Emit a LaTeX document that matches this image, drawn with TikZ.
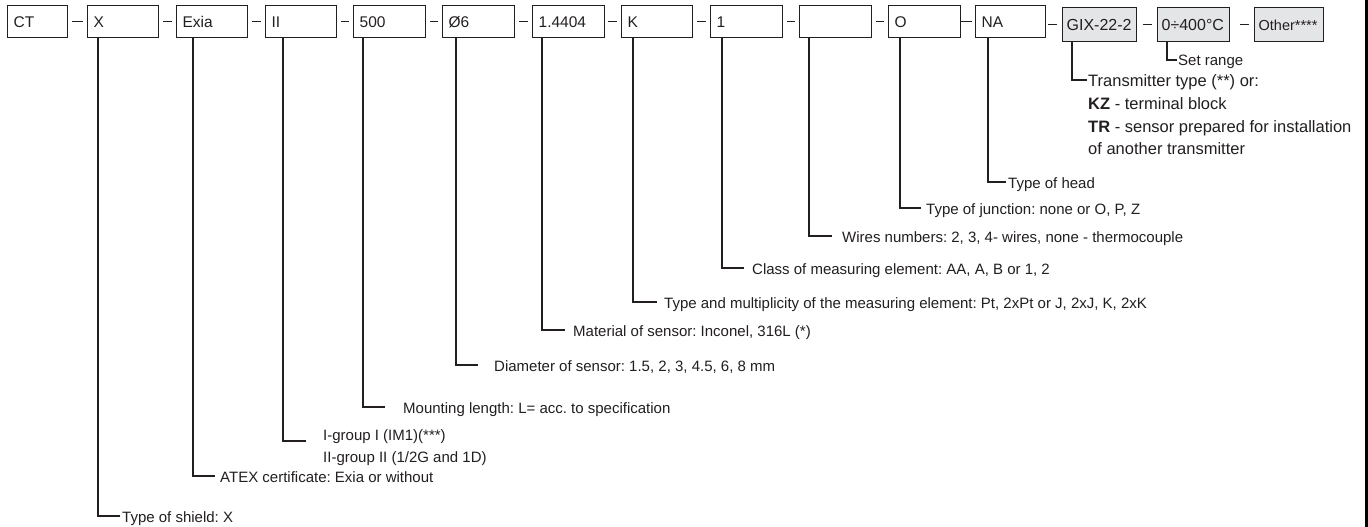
\documentclass[tikz,border=0pt]{standalone}
\usepackage{fontspec}
\setmainfont{Liberation Sans}
\frenchspacing
\definecolor{ink}{RGB}{35,31,32}
\definecolor{boxgrey}{RGB}{228,229,230}
\definecolor{ybar}{RGB}{255,210,40}
\tikzset{
  codebox/.style={draw=ink, line width=1.3pt, rectangle, anchor=north west,
    minimum height=32pt, inner xsep=6pt, inner ysep=0pt, text width=#1,
    align=left, text height=11pt, text depth=0pt, text=ink,
    font=\fontsize{15.5}{18}\selectfont},
  greybox/.style={codebox=#1, fill=boxgrey, minimum height=34pt, inner xsep=4pt,
    font=\fontsize{16}{18}\selectfont, text height=11.5pt},
  conn/.style={draw=ink, line width=1.3pt},
  lbl/.style={anchor=base west, inner sep=0pt, text=ink, font=\fontsize{15}{22}\selectfont},
}
\begin{document}
\begin{tikzpicture}[x=1pt,y=-1pt]
\useasboundingbox (0,0) rectangle (1368,527);
\fill[white] (0,0) rectangle (1368,527);
\fill[ybar] (1365,0) rectangle (1368,527);

% code boxes
\node[codebox=48pt] (bCT)  at (7,5)   {CT};
\node[codebox=59pt] (bX)   at (87,5)  {X};
\node[codebox=59pt] (bEx)  at (176,5) {Exia};
\node[codebox=59pt] (bII)  at (265,5) {II};
\node[codebox=60pt] (b500) at (353,5) {500};
\node[codebox=60pt] (bD)   at (442,5) {Ø6};
\node[codebox=60pt] (bMat) at (532,5) {1.4404};
\node[codebox=59pt] (bK)   at (621,5) {K};
\node[codebox=60pt] (b1)   at (710,5) {1};
\node[codebox=60pt] (bW)   at (799,5) {};
\node[codebox=60pt] (bO)   at (888,5) {O};
\node[codebox=58pt] (bNA)  at (975,5) {NA};
\node[greybox=66pt] (bGIX) at (1062,7) {GIX-22-2};
\node[greybox=64pt] (bR)   at (1157,7) {0÷400°C};
\node[greybox=61pt, font=\fontsize{14.5}{18}\selectfont] (bOth) at (1254,7) {Other****};

% dashes between boxes
\draw[conn] ([xshift=4pt]bCT.east)  -- ([xshift=-4pt]bX.west);
\draw[conn] ([xshift=4pt]bX.east)   -- ([xshift=-4pt]bEx.west);
\draw[conn] ([xshift=4pt]bEx.east)  -- ([xshift=-4pt]bII.west);
\draw[conn] ([xshift=4pt]bII.east)  -- ([xshift=-4pt]b500.west);
\draw[conn] ([xshift=4pt]b500.east) -- ([xshift=-4pt]bD.west);
\draw[conn] ([xshift=4pt]bD.east)   -- ([xshift=-4pt]bMat.west);
\draw[conn] ([xshift=3pt]bMat.east) -- ([xshift=-4pt]bK.west);
\draw[conn] ([xshift=4pt]bK.east)   -- ([xshift=-4pt]b1.west);
\draw[conn] ([xshift=4pt]b1.east)   -- ([xshift=-4pt]bW.west);
\draw[conn] ([xshift=4pt]bW.east)   -- ([xshift=-4pt]bO.west);
\draw[conn] (bO.east) -- ([xshift=-3pt]bNA.west);
\draw[conn] ([xshift=2pt]bNA.east |- bGIX.west) -- ([xshift=-5pt]bGIX.west);
\draw[conn] ([xshift=6pt]bGIX.east) -- ([xshift=-5pt]bR.west);
\draw[conn] ([xshift=10pt]bR.east)  -- ([xshift=-5pt]bOth.west);

% labels
\node[lbl] (lX)   at (122,522) {Type of shield: X};
\node[lbl] (lEx)  at (220,482) {ATEX certificate: Exia or without};
\node[lbl] (lII)  at (323,440) {\vtop{\hbox{I-group I (IM1)(***)}\hbox{II-group II (1/2G and 1D)}}};
\node[lbl] (l500) at (403,413) {Mounting length: L= acc. to specification};
\node[lbl] (lD)   at (494,371) {Diameter of sensor: 1.5, 2, 3, 4.5, 6, 8 mm};
\node[lbl] (lMat) at (573,336) {Material of sensor: Inconel, 316L (*)};
\node[lbl] (lK)   at (664,308) {Type and multiplicity of the measuring element: Pt, 2xPt or J, 2xJ, K, 2xK};
\node[lbl] (l1)   at (752,274) {Class of measuring element: AA, A, B or 1, 2};
\node[lbl] (lW)   at (842,242) {Wires numbers: 2, 3, 4- wires, none - thermocouple};
\node[lbl] (lO)   at (926,214) {Type of junction: none or O, P, Z};
\node[lbl] (lNA)  at (1008,188) {Type of head};
\node[lbl, font=\fontsize{16.5}{22.5}\selectfont] (lGIX) at (1088,87) {\vtop{\hbox{Transmitter type (**) or:}\hbox{\textbf{KZ} - terminal block}\hbox{\textbf{TR} - sensor prepared for installation}\hbox{of another transmitter}}};
\node[lbl] (lR)   at (1178,66) {Set range};

% elbow ends
\coordinate (eX)   at (120,516);
\coordinate (eEx)  at (215,476);
\coordinate (eII)  at (306,441);
\coordinate (e500) at (385,407);
\coordinate (eD)   at (478,365);
\coordinate (eMat) at (565,330);
\coordinate (eK)   at (657,302);
\coordinate (e1)   at (744,268);
\coordinate (eW)   at (832,236);
\coordinate (eO)   at (921,208);
\coordinate (eNA)  at (1006,182);
\coordinate (eGIX) at (1087,80);
\coordinate (eR)   at (1177,60);

% connectors
\draw[conn] ([xshift=11pt]bX.south west)   |- (eX);
\draw[conn] ([xshift=17pt]bEx.south west)  |- (eEx);
\draw[conn] ([xshift=18pt]bII.south west)  |- (eII);
\draw[conn] ([xshift=10pt]b500.south west) |- (e500);
\draw[conn] ([xshift=14pt]bD.south west)   |- (eD);
\draw[conn] ([xshift=10pt]bMat.south west) |- (eMat);
\draw[conn] ([xshift=12pt]bK.south west)   |- (eK);
\draw[conn] ([xshift=12pt]b1.south west)   |- (e1);
\draw[conn] ([xshift=10pt]bW.south west)   |- (eW);
\draw[conn] ([xshift=12pt]bO.south west)   |- (eO);
\draw[conn] ([xshift=13pt]bNA.south west)  |- (eNA);
\draw[conn] ([xshift=10pt]bGIX.south west) |- (eGIX);
\draw[conn] ([xshift=10pt]bR.south west)   |- (eR);
\end{tikzpicture}
\end{document}
